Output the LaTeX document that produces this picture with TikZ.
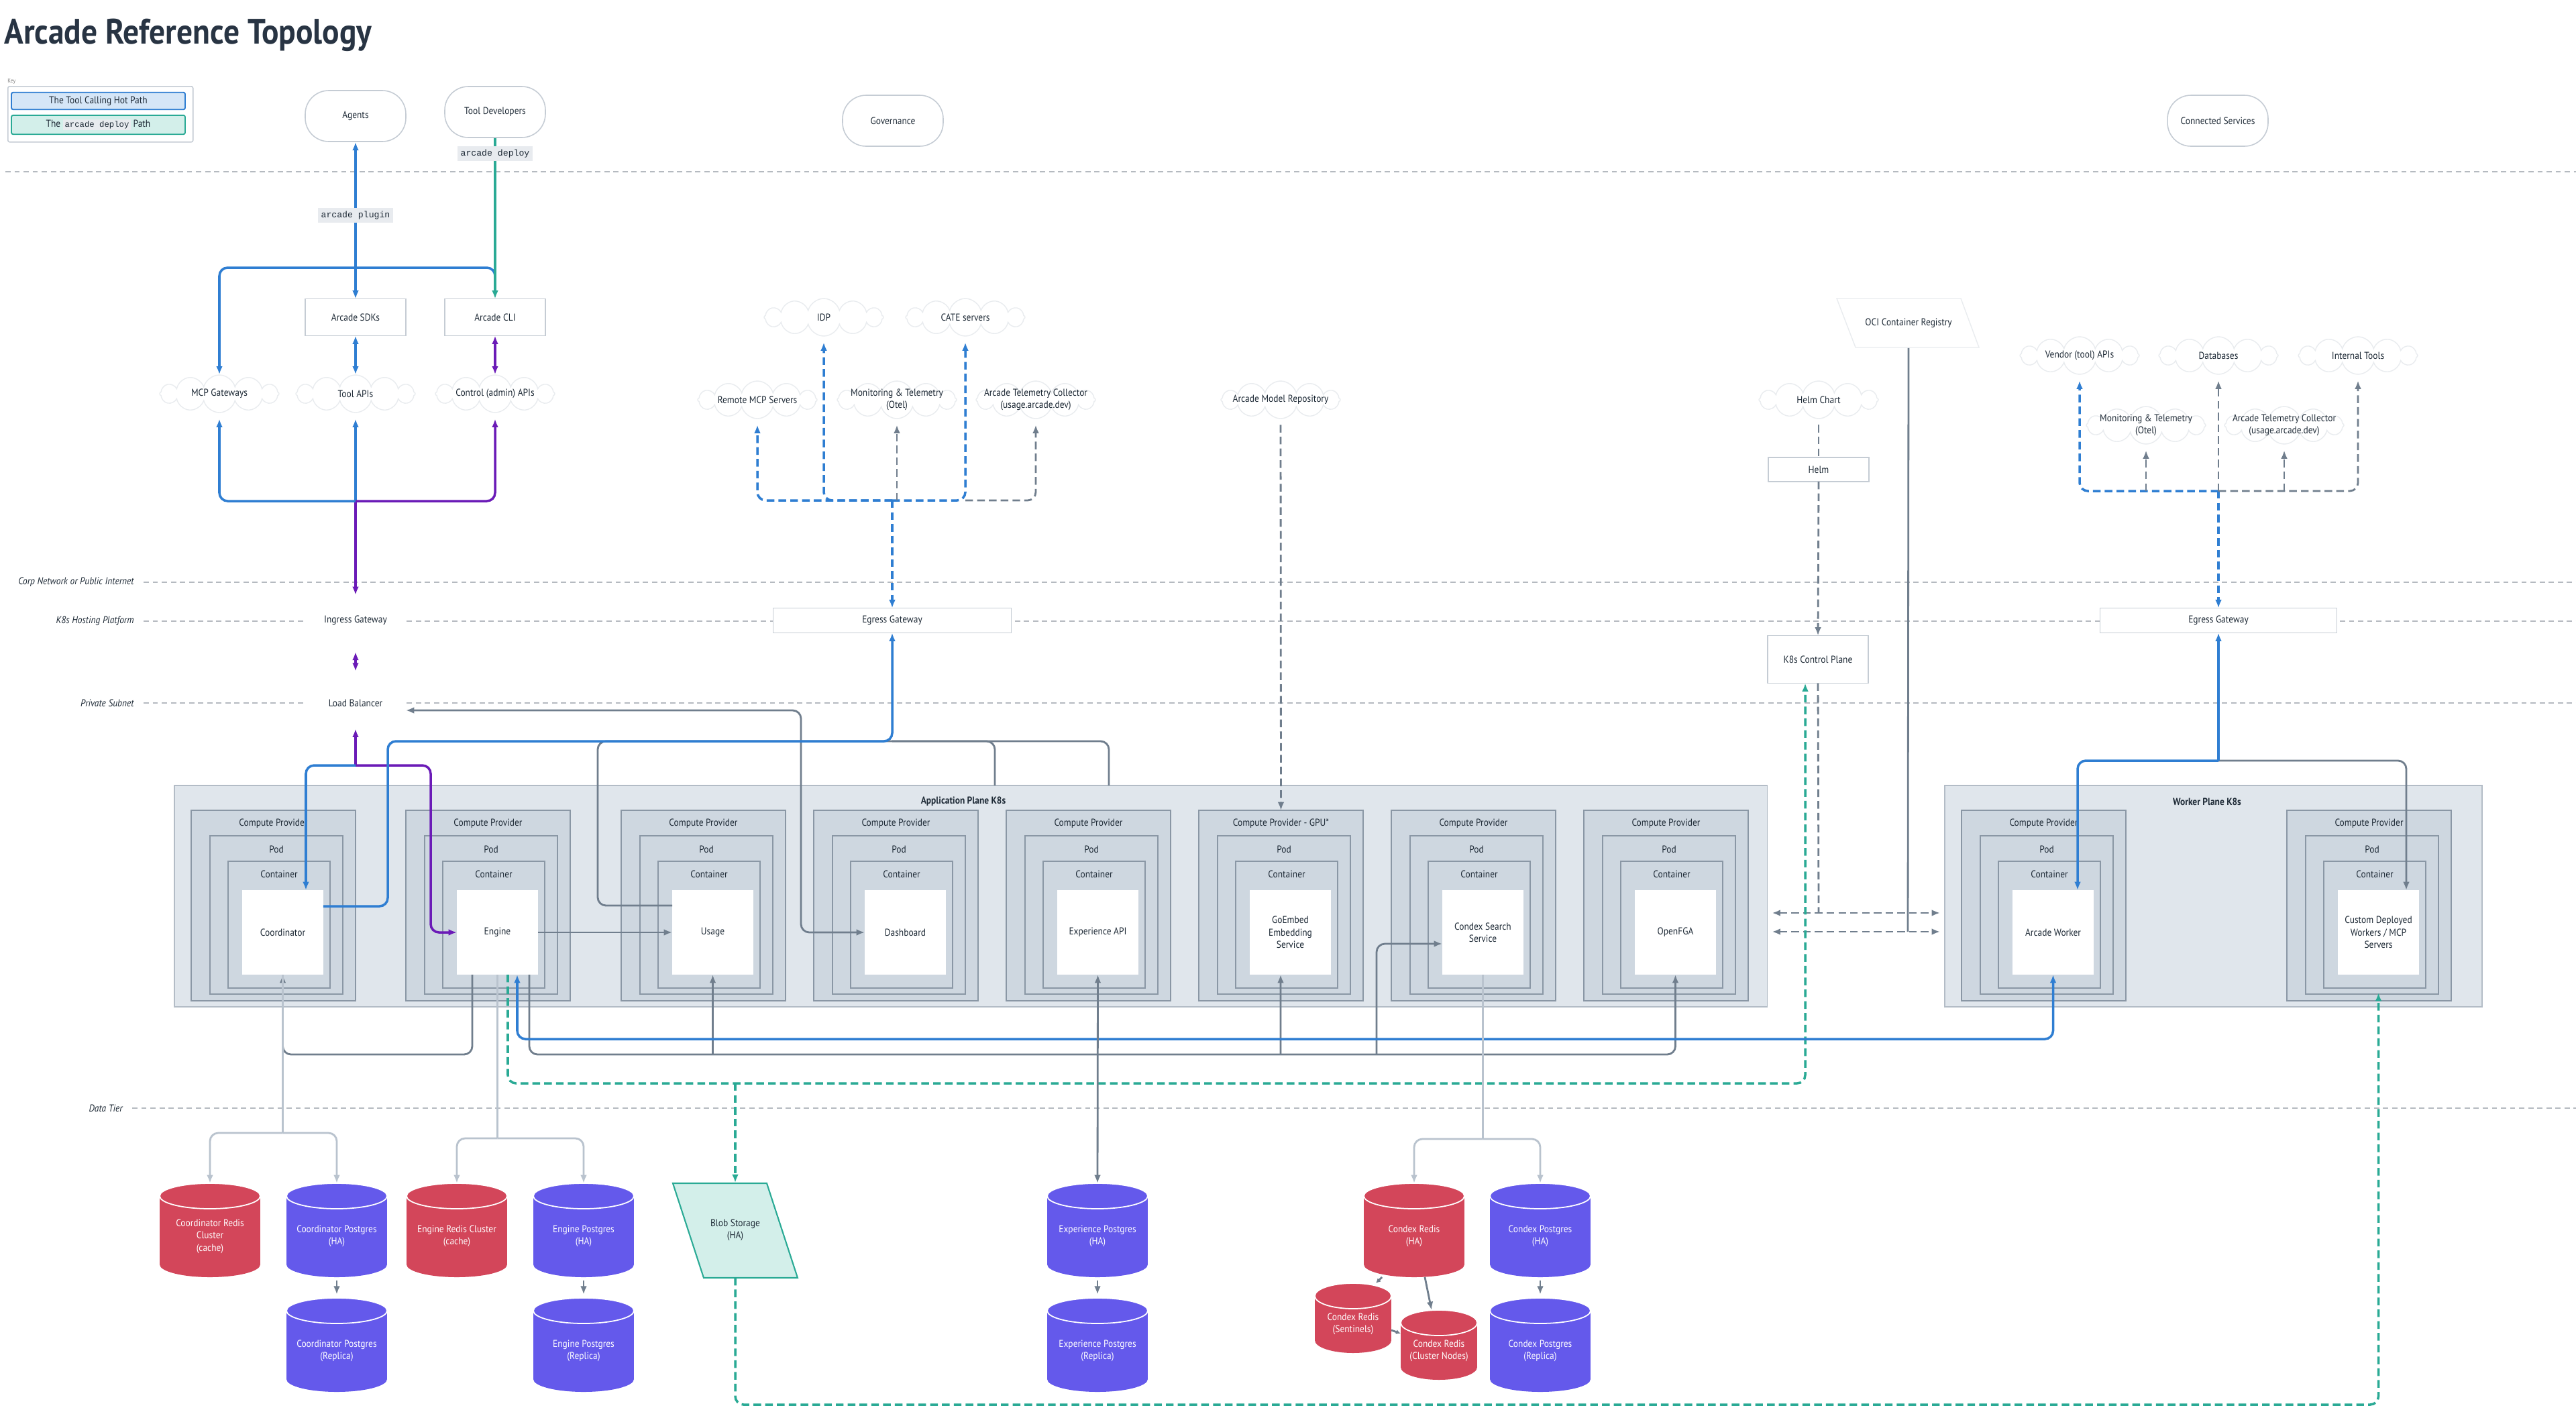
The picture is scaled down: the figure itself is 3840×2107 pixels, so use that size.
\documentclass[tikz,border=0pt]{standalone}
\usepackage{fontspec}
\setmainfont{PT Sans}[FakeStretch=0.9]
\setmonofont{Liberation Mono}
\usetikzlibrary{arrows.meta,positioning,shapes.symbols}

\definecolor{ink}{HTML}{1E2A36}
\definecolor{titleink}{HTML}{283443}
\definecolor{guidegray}{HTML}{B5BAC0}
\definecolor{boxedge}{HTML}{C5CCD4}
\definecolor{cloudedge}{HTML}{E9ECEF}
\definecolor{hotblue}{HTML}{2F7ED2}
\definecolor{hotfill}{HTML}{D5E6F7}
\definecolor{adminpurple}{HTML}{6B1BB7}
\definecolor{deployteal}{HTML}{2AAA95}
\definecolor{deployfill}{HTML}{D3EFEA}
\definecolor{svcgray}{HTML}{707E8D}
\definecolor{dbgray}{HTML}{B9C3CE}
\definecolor{codebg}{HTML}{E8EBEF}
\definecolor{planefill}{HTML}{E0E6EC}
\definecolor{planeedge}{HTML}{B3BCC6}
\definecolor{cpfill}{HTML}{CED7E0}
\definecolor{cpedge}{HTML}{8A97A5}
\definecolor{redisred}{HTML}{D3465A}
\definecolor{pgviolet}{HTML}{6459EB}

\newcommand{\basefont}{\fontsize{8.5}{10.5}\selectfont}

% database cylinder: name, centre x, top y, half width, height, colour, text
\newcommand{\dbcyl}[7]{%
  \fill[#6] (#2-#4,#3+19) rectangle (#2+#4,#3+#5-19);
  \fill[#6] (#2,#3+#5-19) ellipse [x radius={#4*0.02cm}, y radius=0.38cm];
  \fill[#6] (#2,#3+19) ellipse [x radius={#4*0.02cm}, y radius=0.38cm];
  \draw[white, line width=1pt] (#2,#3+19) ellipse [x radius={#4*0.02cm}, y radius=0.38cm];
  \node[dbshape, minimum width={#4*0.04cm}, minimum height={#5*0.02cm}] (#1) at (#2,#3+#5/2) {};
  \node[dbtext] (#1-text) at (#2,#3+#5/2+9) {#7};
}

\begin{document}
\begin{tikzpicture}[x=0.02cm, y=-0.02cm, >={Latex[length=7pt,width=5.5pt]},
    every node/.style={font=\basefont, text=ink}]
    \tikzset{
      guide/.style={draw=guidegray, line width=1pt, dash pattern=on 4.5pt off 3.2pt},
      guidelabel/.style={anchor=east, inner sep=0pt, font=\itshape\basefont},
      actor/.style={draw=boxedge, fill=white, line width=0.9pt, rounded corners=0.7cm,
        minimum width=3cm, minimum height=1.52cm},
      block/.style={draw=boxedge, fill=white, line width=0.9pt, outer sep=0pt,
        minimum width=3cm, minimum height=1.1cm},
      gatebox/.style={draw=white, fill=white, outer sep=0pt,
        minimum width=3cm, minimum height=1.52cm},
      cloudnode/.style={cloud, cloud puffs=12, cloud ignores aspect, draw=cloudedge,
        fill=white, line width=0.8pt, inner sep=0pt, minimum width=3.56cm, minimum height=1.12cm},
      codetag/.style={fill=codebg, inner sep=2.5pt, font=\ttfamily\fontsize{7.5}{9}\selectfont},
      plane/.style={draw=planeedge, fill=planefill, line width=1pt, outer sep=0pt, inner sep=0pt},
      cpbox/.style={draw=cpedge, fill=cpfill, line width=0.9pt, outer sep=0pt, inner sep=0pt},
      svcbox/.style={fill=white, align=center, outer sep=0pt, inner sep=2pt},
      layerlabel/.style={inner sep=0pt},
      dbshape/.style={inner sep=0pt, outer sep=0pt},
      dbtext/.style={text=white, align=center, inner sep=0pt},
      keyitem/.style={line width=1.1pt, rounded corners=1.5pt, minimum width=5.18cm, minimum height=0.5cm},
      hot/.style={draw=hotblue, line width=2pt, rounded corners=7pt},
      hotdash/.style={hot, dash pattern=on 6.5pt off 3.5pt},
      admin/.style={draw=adminpurple, line width=2pt, rounded corners=7pt},
      deploy/.style={draw=deployteal, line width=2pt, rounded corners=7pt},
      deploydash/.style={deploy, dash pattern=on 6.5pt off 3.5pt},
      svc/.style={draw=svcgray, line width=1.6pt, rounded corners=7pt},
      extline/.style={svc, dash pattern=on 6.5pt off 3.5pt},
      dbline/.style={draw=dbgray, line width=1.6pt, rounded corners=7pt},
      tocloud/.style={shorten >=5pt},
      small/.style={>={Latex[length=4pt,width=4pt]}}
    }

    \fill[white] (0,0) rectangle (3840,2107);
    \useasboundingbox (0,0) rectangle (3840,2107);

    % title and key
    \node[anchor=west, inner sep=0pt, text=titleink, font=\bfseries\fontsize{30}{34}\selectfont] (title) at (6,52) {Arcade Reference Topology};
    \node[anchor=south west, inner sep=0pt, text=gray, font=\fontsize{5}{6}\selectfont] (keylabel) at (11,126) {Key};
    \node[draw=boxedge, line width=0.9pt, rounded corners=1.5pt, anchor=north west, minimum width=5.52cm, minimum height=1.66cm] (key) at (11,128) {};
    \node[keyitem, fill=hotfill, draw=hotblue] (keyhot) at (146.5,150.5) {The Tool Calling Hot Path};
    \node[keyitem, fill=deployfill, draw=deployteal] (keydeploy) at (146.5,186) {The {\fboxsep=1.5pt\colorbox{codebg}{\ttfamily\fontsize{7}{8}\selectfont arcade deploy}} Path};

    % zone guides
    \draw[guide] (8,256) -- (3840,256);
    \node[guidelabel] (corpnet) at (200,868) {Corp Network or Public Internet};
    \node[guidelabel] (k8shost) at (200,926) {K8s Hosting Platform};
    \node[guidelabel] (privnet) at (200,1048) {Private Subnet};
    \node[guidelabel] (datatier) at (183,1652) {Data Tier};
    \draw[guide] ([xshift=8pt]corpnet.east) -- (3840,868);
    \draw[guide] ([xshift=8pt]k8shost.east) -- (3840,926);
    \draw[guide] ([xshift=8pt]privnet.east) -- (3840,1048);
    \draw[guide] ([xshift=8pt]datatier.east) -- (3840,1652);

    % people and outside systems
    \node[actor] (agents) at (530,173) {Agents};
    \node[actor] (tooldev) at (738,167) {Tool Developers};
    \node[actor] (governance) at (1331,180) {Governance};
    \node[actor] (connected) at (3306,180) {Connected Services};

    \node[block] (sdks) at (530,473) {Arcade SDKs};
    \node[block] (cli) at (738,473) {Arcade CLI};

    \node[cloudnode, label=center:MCP Gateways] (mcpgw) at (327,587) {};
    \node[cloudnode, label=center:Tool APIs] (toolapi) at (530,587) {};
    \node[cloudnode, label=center:Control (admin) APIs] (ctrlapi) at (738,587) {};

    \node[cloudnode, label=center:IDP] (idp) at (1228,473) {};
    \node[cloudnode, label=center:CATE servers] (cate) at (1439,473) {};
    \node[cloudnode, label=center:Remote MCP Servers] (remotemcp) at (1129,596) {};
    \node[cloudnode, label={[align=center]center:Monitoring \& Telemetry\\(Otel)}] (otelL) at (1337,596) {};
    \node[cloudnode, label={[align=center]center:Arcade Telemetry Collector\\(usage.arcade.dev)}] (collectorL) at (1544,596) {};
    \node[cloudnode, label=center:Arcade Model Repository] (modelrepo) at (1909,596) {};

    \draw[draw=cloudedge, line width=0.8pt] (2738,445) -- (2923,445) -- (2950,518) -- (2766,518) -- cycle;
    \node[inner sep=0pt, minimum width=3.7cm, minimum height=1.46cm] (oci) at (2845,482) {OCI Container Registry};
    \node[cloudnode, label=center:Helm Chart] (helmchart) at (2711,596) {};
    \node[block, minimum height=0.72cm] (helm) at (2711,700) {Helm};
    \node[block, minimum height=1.42cm] (k8scp) at (2710,983) {K8s Control Plane};

    \node[cloudnode, label=center:Vendor (tool) APIs] (vendor) at (3100,530) {};
    \node[cloudnode, label=center:Databases] (databases) at (3307,530) {};
    \node[cloudnode, label=center:Internal Tools] (internal) at (3515,530) {};
    \node[cloudnode, label={[align=center]center:Monitoring \& Telemetry\\(Otel)}] (otelR) at (3199,634) {};
    \node[cloudnode, label={[align=center]center:Arcade Telemetry Collector\\(usage.arcade.dev)}] (collectorR) at (3405,634) {};

    % network edge
    \node[gatebox] (ingress) at (530,925) {Ingress Gateway};
    \node[gatebox, minimum height=1.54cm] (lb) at (530,1048) {Load Balancer};
    \node[block, minimum width=7.1cm, minimum height=0.74cm] (egressL) at (1330,925) {Egress Gateway};
    \node[block, minimum width=7.06cm, minimum height=0.74cm] (egressR) at (3307,925) {Egress Gateway};

    % kubernetes planes
    \node[plane, anchor=north west, minimum width=47.5cm, minimum height=6.6cm] (appplane) at (260,1171) {};
    \node[font=\bfseries\basefont] (apptitle) at (1436,1195) {Application Plane K8s};
    \node[plane, anchor=north west, minimum width=16.02cm, minimum height=6.6cm] (workplane) at (2899,1171) {};
    \node[font=\bfseries\basefont] (worktitle) at (3290,1195) {Worker Plane K8s};

    \foreach \lx/\sname/\cptitle/\stext in {285/coordinator/Compute Provider/Coordinator, 605/engine/Compute Provider/Engine, 926/usage/Compute Provider/Usage, 1213/dashboard/Compute Provider/Dashboard, 1500/expapi/Compute Provider/Experience API, 1787/goembed/Compute Provider - GPU*/{GoEmbed\\Embedding\\Service}, 2074/condex/Compute Provider/{Condex Search\\Service}, 2361/openfga/Compute Provider/OpenFGA, 2924/worker/Compute Provider/Arcade Worker, 3409/custom/Compute Provider/{Custom Deployed\\Workers / MCP\\Servers}} {
      \node[cpbox, anchor=north west, minimum width=4.9cm, minimum height=5.68cm] (cp-\sname) at (\lx,1208) {};
      \node[layerlabel] at (\lx+122.5,1228) {\cptitle};
      \node[cpbox, anchor=north west, minimum width=3.96cm, minimum height=4.72cm] (pod-\sname) at (\lx+28,1246) {};
      \node[layerlabel] at (\lx+127,1266) {Pod};
      \node[cpbox, anchor=north west, minimum width=3.04cm, minimum height=3.78cm] (ctr-\sname) at (\lx+55,1284) {};
      \node[layerlabel] at (\lx+131,1303) {Container};
      \node[svcbox, minimum width=2.42cm, minimum height=2.52cm] (\sname) at (\lx+136.5,1390) {\stext};
    }

    % data tier
    \dbcyl{credis}{313}{1764}{75}{140}{redisred}{Coordinator Redis\\Cluster\\(cache)}
    \dbcyl{cpg}{502}{1764}{75}{140}{pgviolet}{Coordinator Postgres\\(HA)}
    \dbcyl{cpgrep}{502}{1935}{75}{140}{pgviolet}{Coordinator Postgres\\(Replica)}
    \dbcyl{eredis}{681}{1764}{75}{140}{redisred}{Engine Redis  Cluster\\(cache)}
    \dbcyl{epg}{870}{1764}{75}{140}{pgviolet}{Engine Postgres\\(HA)}
    \dbcyl{epgrep}{870}{1935}{75}{140}{pgviolet}{Engine Postgres\\(Replica)}
    \dbcyl{exppg}{1636}{1764}{75}{140}{pgviolet}{Experience Postgres\\(HA)}
    \dbcyl{exppgrep}{1636}{1935}{75}{140}{pgviolet}{Experience Postgres\\(Replica)}
    \dbcyl{cxredis}{2108}{1764}{75}{140}{redisred}{Condex Redis\\(HA)}
    \dbcyl{cxpg}{2296}{1764}{75}{140}{pgviolet}{Condex Postgres\\(HA)}
    \dbcyl{cxsent}{2017}{1913}{57}{104}{redisred}{Condex Redis\\(Sentinels)}
    \dbcyl{cxnodes}{2145}{1953}{57}{104}{redisred}{Condex Redis\\(Cluster Nodes)}
    \dbcyl{cxpgrep}{2296}{1935}{75}{140}{pgviolet}{Condex Postgres\\(Replica)}

    \draw[deploy, fill=deployfill, rounded corners=0pt, line width=1.2pt] (1003,1764) -- (1143,1764) -- (1189,1905) -- (1049,1905) -- cycle;
    \node[inner sep=0pt, minimum width=2.8cm, minimum height=2.82cm, align=center] (blob) at (1096,1834) {Blob Storage\\(HA)};

    % hub points for the branching connectors
    \coordinate (plughub) at (530,399);
    \coordinate (apihub) at (530,747);
    \coordinate (lbhub) at (530,1141);
    \coordinate (egresshubL) at (1330,1105);
    \coordinate (telhubL) at (1330,746);
    \coordinate (telhubR) at (3307,732);
    \coordinate (workhub) at (3307,1134);
    \coordinate (tapA) at (1483,1171);
    \coordinate (tapB) at (1653,1171);
    \coordinate (cpdrop) at (2711,1361);
    \coordinate (ocidrop) at (2844,1389);
    \coordinate (ctap) at (421.5,1572);
    \coordinate (utap) at (1062.5,1572);
    \coordinate (gtap) at (1909,1572);
    \coordinate (ftap) at (2497.5,1572);
    \coordinate (cdbhub) at (421.5,1689);
    \coordinate (edbhub) at (741.5,1697);
    \coordinate (xdbhub) at (2210.5,1698);
    \coordinate (blobtap) at (1096,1615);

    % clients to the public APIs
    \draw[hot,<-] (agents.south) -- (plughub);
    \draw[hot,->] (plughub) -| (mcpgw.north);
    \draw[hot,->] (plughub) -- (sdks.north);
    \draw[hot] (plughub) -| ([yshift=6pt]cli.north);
    \draw[deploy,->] (tooldev.south) -- (cli.north);
    \draw[hot,<->] (sdks.south) -- (toolapi.north);
    \draw[admin,<->] (cli.south) -- (ctrlapi.north);

    \draw[admin,->] (apihub) -- (ingress.north);
    \draw[hot,->,tocloud] (apihub) -| (mcpgw.south);
    \draw[hot,->,tocloud] (apihub) -- (toolapi.south);
    \draw[admin,->,tocloud] (apihub) -| (ctrlapi.south);
    \draw[admin,<->,shorten <=5pt,shorten >=5pt] (ingress.south) -- (lb.north);

    % load balancer into the application plane
    \draw[admin,<-] (lb.south) -- (lbhub);
    \draw[admin,->] (lbhub) -| (642,1390) -- (engine.west);
    \draw[hot,->] (lbhub) -| ([xshift=0.69cm]coordinator.north);
    \draw[svc,<->] ([yshift=-0.22cm]lb.east) -| (1194,1390) -- (dashboard.west);
    \draw[svc,->] (engine.east) -- (usage.west);

    % application plane to the outside world
    \draw[svc] ([yshift=0.8cm]usage.west) -| (891,1105) -- (egresshubL);
    \draw[svc] (tapA) |- (egresshubL);
    \draw[svc] (tapB) |- (egresshubL);
    \draw[hot,->] ([yshift=0.78cm]coordinator.east) -| (578,1105) -- (egresshubL) -- (egressL.south);

    \draw[hotdash,->] (telhubL) -- (egressL.north);
    \draw[hotdash,->,tocloud] (telhubL) -| (remotemcp.south);
    \draw[hotdash,->,tocloud] (telhubL) -| (idp.south);
    \draw[hotdash,->,tocloud] (telhubL) -| (cate.south);
    \draw[extline,->,tocloud] (otelL.south |- telhubL) -- (otelL.south);
    \draw[extline,->,tocloud] (cate.south |- telhubL) -| (collectorL.south);
    \draw[extline,->,shorten <=5pt] (modelrepo.south) -- (cp-goembed.north);

    % worker plane to the outside world
    \draw[hotdash,->] (telhubR) -- (egressR.north);
    \draw[hotdash,->,tocloud] (telhubR) -| (vendor.south);
    \draw[extline,->,tocloud] (otelR.south |- telhubR) -- (otelR.south);
    \draw[extline,->,tocloud] (telhubR) -- (databases.south);
    \draw[extline,->,tocloud] (collectorR.south |- telhubR) -- (collectorR.south);
    \draw[extline,->,tocloud] (telhubR) -| (internal.south);
    \draw[svc,->] (workhub) -| ([xshift=0.83cm]custom.north);
    \draw[hot,->] (workhub) -| ([xshift=0.73cm]worker.north);
    \draw[hot,->] (workhub) -- (egressR.south);

    % control plane, registry and deploy path
    \draw[extline,shorten <=5pt] (helmchart.south) -- (helm.north);
    \draw[extline,->] (helm.south) -- (k8scp.north);
    \draw[extline] (k8scp.south) -- (cpdrop);
    \draw[extline,<->,shorten <=4pt,shorten >=4pt] (appplane.east |- cpdrop) -- (workplane.west |- cpdrop);
    \draw[svc] (oci.south) -- (ocidrop);
    \draw[extline,<->,shorten <=4pt,shorten >=4pt] (appplane.east |- ocidrop) -- (workplane.west |- ocidrop);

    \draw[deploydash,->] ([xshift=0.31cm]engine.south) |- (2691,1615) -- ([xshift=-0.38cm]k8scp.south);
    \draw[deploydash,->] (blobtap) -- (blob.north);
    \draw[deploydash,->] (blob.south) |- (3545.5,2094) -- ([yshift=-0.54cm]custom.south);

    % service to service below the planes
    \draw[svc,->] ([xshift=-0.75cm]engine.south) |- (ctap) -- (coordinator.south);
    \draw[svc,->] ([xshift=0.95cm]engine.south) |- (ftap) -- (openfga.south);
    \draw[svc,->] (utap) -- (usage.south);
    \draw[svc,->] (gtap) -- ([xshift=-0.29cm]goembed.south);
    \draw[svc,->] (2052,1572) |- ([yshift=-0.34cm]condex.west);
    \draw[hot,<->] ([xshift=0.59cm]engine.south) |- (3060.5,1549) -- (worker.south);
    \draw[svc,<->] (expapi.south) -- (exppg.north);

    % services to their stores
    \draw[dbline] (coordinator.south) -- (cdbhub);
    \draw[dbline,->] (cdbhub) -| (credis.north);
    \draw[dbline,->] (cdbhub) -| (cpg.north);
    \draw[dbline] (engine.south) -- (edbhub);
    \draw[dbline,->] (edbhub) -| (eredis.north);
    \draw[dbline,->] (edbhub) -| (epg.north);
    \draw[dbline] (condex.south) -- (xdbhub);
    \draw[dbline,->] (xdbhub) -| (cxredis.north);
    \draw[dbline,->] (xdbhub) -| (cxpg.north);

    \draw[svc,->,shorten <=3pt,shorten >=3pt] (cpg.south) -- (cpgrep.north);
    \draw[svc,->,shorten <=3pt,shorten >=3pt] (epg.south) -- (epgrep.north);
    \draw[svc,->,shorten <=3pt,shorten >=3pt] (exppg.south) -- (exppgrep.north);
    \draw[svc,->,shorten <=3pt,shorten >=3pt] (cxpg.south) -- (cxpgrep.north);
    \draw[svc,->,small] ([xshift=-0.96cm]cxredis.south) -- ([xshift=0.68cm]cxsent.north);
    \draw[svc,->] ([xshift=0.32cm]cxredis.south) -- ([xshift=-0.22cm]cxnodes.north);
    \draw[svc,->,small] ([yshift=-0.36cm]cxsent.east) -- ([yshift=0.34cm]cxnodes.west);

    % command tags sit on top of their lines
    \node[codetag] (plugtag) at (530,321) {arcade plugin};
    \node[codetag] (deploytag) at (738,229) {arcade deploy};
\end{tikzpicture}
\end{document}
